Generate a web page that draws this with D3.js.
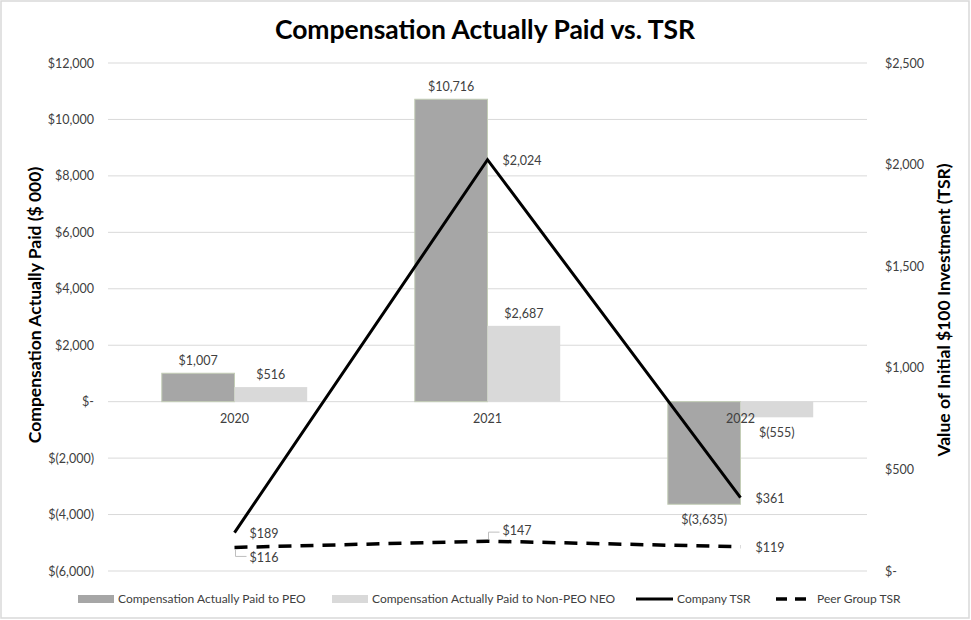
<!DOCTYPE html>
<html><head><meta charset="utf-8">
<script src="https://cdn.jsdelivr.net/npm/d3@7"></script>
<style>body{margin:0;background:#fff;} svg{display:block;font-family:Lato,"Open Sans",sans-serif;}</style>
</head><body>
<svg id="c" width="971" height="620"></svg>
<script>
const years = ["2020","2021","2022"];
const peoCap = [1007, 10716, -3635];
const neoCap = [516, 2687, -555];
const companyTSR = [189, 2024, 361];
const peerTSR = [116, 147, 119];
const leftTicks = [12000,10000,8000,6000,4000,2000,0,-2000,-4000,-6000];
const rightTicks = [2500,2000,1500,1000,500,0];

const svg = d3.select("#c");
const W=971,H=620;
const x0=108, x1=867, yTop=63, yBot=571;
svg.append("rect").attr("x",1).attr("y",1).attr("width",W-3).attr("height",H-3).attr("fill","#fff").attr("stroke","#d9d9d9").attr("stroke-width",1.5);

const x = d3.scaleBand().domain(years).range([x0,x1]).paddingInner(0).paddingOuter(0);
const inner = d3.scaleBand().domain(["peo","neo"]).range([0,x.bandwidth()]).paddingInner(0).paddingOuter(0.74);
const yL = d3.scaleLinear().domain([-6000,12000]).range([yBot,yTop]);
const yR = d3.scaleLinear().domain([0,2500]).range([yBot,yTop]);

const fmtMoney = v => v===0 ? "$-" : (v<0 ? "$(" + d3.format(",")(-v) + ")" : "$" + d3.format(",")(v));

// gridlines
svg.append("g").selectAll("line").data(leftTicks).join("line")
  .attr("x1",x0).attr("x2",x1).attr("y1",d=>yL(d)).attr("y2",d=>yL(d))
  .attr("stroke","#d9d9d9").attr("stroke-width",1);

// left axis
const gl = svg.append("g").attr("transform",`translate(${x0},0)`)
  .call(d3.axisLeft(yL).tickValues(leftTicks).tickFormat(fmtMoney).tickSize(0).tickPadding(14));
gl.select(".domain").remove();
gl.selectAll("text").attr("font-size",12.5).attr("fill","#404040").attr("font-family","Lato,sans-serif");

// right axis
const gr = svg.append("g").attr("transform",`translate(${x1},0)`)
  .call(d3.axisRight(yR).tickValues(rightTicks).tickFormat(fmtMoney).tickSize(0).tickPadding(18));
gr.select(".domain").remove();
gr.selectAll("text").attr("font-size",12.5).attr("fill","#404040").attr("font-family","Lato,sans-serif");

// bars
const g = svg.append("g");
years.forEach((yr,i)=>{
  const bx = x(yr);
  const pv=peoCap[i], nv=neoCap[i];
  g.append("rect").attr("x",bx+inner("peo")).attr("width",inner.bandwidth())
    .attr("y",yL(Math.max(0,pv))).attr("height",Math.abs(yL(pv)-yL(0)))
    .attr("fill","#a6a6a6").attr("stroke","#c3cdb6").attr("stroke-width",1);
  g.append("rect").attr("x",bx+inner("neo")).attr("width",inner.bandwidth())
    .attr("y",yL(Math.max(0,nv))).attr("height",Math.abs(yL(nv)-yL(0)))
    .attr("fill","#d9d9d9");
});

// category labels
svg.append("g").selectAll("text").data(years).join("text")
  .attr("x",d=>x(d)+x.bandwidth()/2).attr("y",yL(0)+21).attr("text-anchor","middle")
  .attr("font-size",12.5).attr("fill","#404040").text(d=>d);

// bar labels
const lab = svg.append("g").attr("font-size",12.5).attr("fill","#404040").attr("text-anchor","middle");
years.forEach((yr,i)=>{
  const pc = x(yr)+inner("peo")+inner.bandwidth()/2;
  const nc = x(yr)+inner("neo")+inner.bandwidth()/2;
  const pv=peoCap[i], nv=neoCap[i];
  lab.append("text").attr("x",pc).attr("y", pv>=0 ? yL(pv)-8 : yL(pv)+20).text(fmtMoney(pv));
  lab.append("text").attr("x",nc).attr("y", nv>=0 ? yL(nv)-8 : yL(nv)+20).text(fmtMoney(nv));
});

// lines
const cx = d=>x(d)+x.bandwidth()/2;
const line = d3.line().x((d,i)=>cx(years[i])).y(d=>yR(d));
svg.append("path").attr("d",line(companyTSR)).attr("fill","none").attr("stroke","#000").attr("stroke-width",3);
svg.append("path").attr("d",line(peerTSR)).attr("fill","none").attr("stroke","#000").attr("stroke-width",3.5).attr("stroke-dasharray","13,9");

// line labels
const ll = svg.append("g").attr("font-size",12.5).attr("fill","#404040");
companyTSR.forEach((v,i)=>{
  ll.append("text").attr("x",cx(years[i])+15).attr("y",yR(v)+5).text(fmtMoney(v));
});
// peer labels
const peerOff = [[15,15],[15,-6],[15,5]];
peerTSR.forEach((v,i)=>{
  ll.append("text").attr("x",cx(years[i])+peerOff[i][0]).attr("y",yR(v)+peerOff[i][1]).text(fmtMoney(v));
});
// leader lines
svg.append("path").attr("d",`M${cx(years[0])+1},${yR(peerTSR[0])+2} V${yR(peerTSR[0])+9} H${cx(years[0])+12}`).attr("fill","none").attr("stroke","#bfbfbf");
svg.append("path").attr("d",`M${cx(years[1])+1},${yR(peerTSR[1])-2} V${yR(peerTSR[1])-9} H${cx(years[1])+12}`).attr("fill","none").attr("stroke","#bfbfbf");

// title
svg.append("text").attr("x",485).attr("y",39).attr("text-anchor","middle").attr("font-size",26.5).attr("font-weight","bold").attr("fill","#000").text("Compensation Actually Paid vs. TSR");

// axis titles
svg.append("text").attr("transform",`translate(41,305) rotate(-90)`).attr("text-anchor","middle").attr("font-size",17.5).attr("font-weight","bold").attr("fill","#000").text("Compensation Actually Paid ($ 000)");
svg.append("text").attr("transform",`translate(950,310) rotate(-90)`).attr("text-anchor","middle").attr("font-size",17.5).attr("font-weight","bold").attr("fill","#000").text("Value of Initial $100 Investment (TSR)");

// legend
const lg = svg.append("g").attr("font-size",12).attr("fill","#404040");
const ly = 599;
lg.append("rect").attr("x",78).attr("y",ly-4).attr("width",36).attr("height",8).attr("fill","#a6a6a6");
lg.append("text").attr("x",118).attr("y",ly+4).text("Compensation Actually Paid to PEO");
lg.append("rect").attr("x",332).attr("y",ly-4).attr("width",36).attr("height",8).attr("fill","#d9d9d9");
lg.append("text").attr("x",372).attr("y",ly+4).text("Compensation Actually Paid to Non-PEO NEO");
lg.append("line").attr("x1",636).attr("x2",673).attr("y1",ly).attr("y2",ly).attr("stroke","#000").attr("stroke-width",3);
lg.append("text").attr("x",677).attr("y",ly+4).text("Company TSR");
lg.append("line").attr("x1",776).attr("x2",806).attr("y1",ly).attr("y2",ly).attr("stroke","#000").attr("stroke-width",3.5).attr("stroke-dasharray","11,8");
lg.append("text").attr("x",817).attr("y",ly+4).text("Peer Group TSR");
</script>
</body></html>
